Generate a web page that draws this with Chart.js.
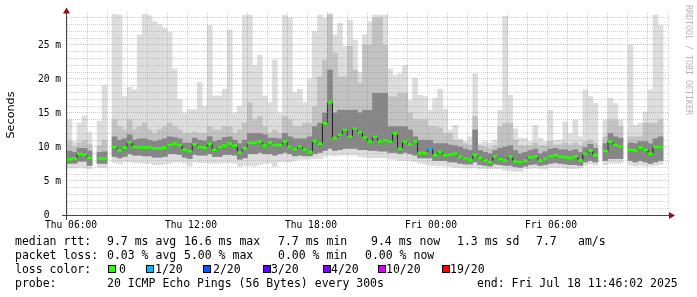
<!DOCTYPE html>
<html>
<head>
<meta charset="utf-8">
<title>SmokePing latency</title>
<script src="https://cdn.jsdelivr.net/npm/chart.js@4.4.0/dist/chart.umd.min.js"></script>
<style>
  html, body { margin: 0; padding: 0; background: #fff; }
  #wrap { width: 697px; height: 297px; }
</style>
</head>
<body>
<div id="wrap"><canvas id="smokeChart" width="697" height="297"></canvas></div>
<script>
// one column per 15 min sample, values in ms (null = no data)
const hi = [14.0, 10.8, 13.5, 14.6, 12.2, null, 13.8, 19.1, null, 29.5, 29.4, 17.4, 18.8, 18.4, 26.5, 29.5, 29.3, 28.4, 28.0, 27.5,
  26.9, 21.5, 17.0, 15.0, 15.5, 15.5, 19.5, 16.0, 27.9, 17.5, 17.5, 18.5, 27.2, 15.0, 16.0, 29.4, 29.4, 22.0, 23.5, 17.5,
  16.5, 22.8, 15.0, 29.4, 29.0, 18.0, 18.5, 16.5, 20.0, 27.0, 29.4, 29.0, 29.6, 26.5, 28.2, 24.8, 28.7, 25.7, 21.0, 26.5,
  28.4, 29.4, 29.4, 29.4, 21.5, 20.5, 20.8, 22.0, 16.9, 20.1, 17.6, 17.4, 15.4, 17.2, 18.5, 15.5, 12.5, 13.2, 11.2, 10.8,
  11.5, 20.8, 10.5, 10.8, 10.6, 11.0, 15.4, 29.2, 17.6, 12.7, 11.3, 11.3, 10.8, 13.2, 11.3, 10.8, 15.4, 11.0, 11.0, 13.7,
  12.0, 14.0, 11.5, 18.4, 17.4, 16.4, null, 14.0, 17.2, 16.4, 14.0, null, 25.0, 13.2, 13.5, 15.2, 18.4, 29.4, 27.9, null];
const mid = [10.8, 10.0, 10.6, 11.0, 10.4, null, 10.2, 11.0, null, 14.0, 13.0, 12.5, 14.0, 12.5, 13.0, 13.5, 12.5, 12.0, 12.5, 13.0,
  13.5, 13.0, 12.5, 12.0, 12.0, 12.2, 12.0, 12.0, 13.0, 12.5, 12.5, 13.0, 13.0, 12.0, 12.5, 13.5, 16.5, 14.0, 14.5, 13.0,
  12.0, 12.5, 12.0, 14.5, 14.0, 13.0, 13.0, 13.5, 13.5, 16.0, 20.3, 22.8, 29.4, 23.8, 20.3, 20.3, 24.8, 21.3, 19.4, 25.0,
  25.0, 29.0, 29.0, 25.0, 17.4, 17.4, 17.9, 17.9, 15.0, 14.0, 14.0, 14.0, 13.0, 13.0, 12.8, 12.0, 12.0, 11.0, 11.0, 10.5,
  10.3, 14.5, 10.2, 10.0, 9.8, 10.2, 13.0, 13.5, 13.5, 11.0, 10.2, 10.2, 10.2, 10.6, 10.2, 10.2, 10.8, 10.3, 10.3, 10.6,
  10.3, 10.6, 10.2, 10.8, 11.0, 10.6, null, 11.5, 14.0, 14.0, 13.0, null, 11.5, 11.5, 11.5, 13.5, 13.5, 13.5, 14.0, null];
const dk = [9.4, 9.2, 9.8, 9.8, 9.4, null, 9.2, 9.3, null, 11.5, 11.0, 11.2, 11.8, 11.0, 11.2, 11.2, 11.0, 10.8, 11.0, 11.2,
  11.5, 11.4, 11.2, 10.6, 10.6, 11.3, 11.0, 10.9, 11.5, 10.8, 11.0, 11.4, 11.5, 11.0, 10.5, 11.0, 12.0, 12.0, 12.0, 11.8,
  11.3, 11.3, 11.2, 12.0, 11.5, 11.2, 11.2, 11.2, 11.5, 13.0, 13.5, 15.0, 21.3, 15.0, 15.4, 15.4, 15.4, 15.4, 15.0, 15.4,
  15.4, 17.9, 17.9, 17.9, 13.0, 13.0, 13.0, 13.0, 12.5, 11.5, 11.0, 11.0, 11.0, 10.5, 10.5, 10.5, 10.3, 10.2, 10.0, 9.7,
  9.5, 12.5, 9.5, 9.2, 9.0, 9.5, 9.8, 10.0, 10.2, 9.5, 9.0, 9.2, 9.5, 9.7, 9.0, 9.3, 9.7, 9.8, 9.6, 9.6,
  9.4, 9.6, 9.2, 9.9, 10.4, 9.8, null, 10.5, 12.0, 11.5, 11.3, null, 10.6, 10.5, 10.8, 10.8, 10.5, 11.2, 11.5, null];
const med = [8.2, 8.3, 9.0, 8.9, 8.4, null, 8.3, 8.3, null, 10.0, 9.5, 9.9, 10.7, 10.0, 10.0, 9.9, 10.0, 9.8, 9.8, 9.9,
  10.3, 10.5, 10.3, 9.6, 9.4, 10.4, 10.0, 9.9, 10.5, 9.6, 10.0, 10.2, 10.5, 10.2, 9.2, 9.8, 10.6, 10.6, 10.8, 10.2,
  10.6, 10.3, 10.3, 10.8, 10.0, 9.7, 10.1, 9.6, 9.3, 10.9, 10.5, 13.5, 16.6, 11.3, 11.8, 12.5, 11.5, 12.7, 12.2, 11.4,
  10.8, 11.5, 10.8, 11.0, 10.8, 12.0, 9.7, 10.8, 10.4, 10.8, 9.1, 9.1, 9.8, 8.8, 9.3, 8.8, 8.9, 9.0, 8.6, 8.3,
  8.1, 8.8, 8.4, 8.0, 7.8, 8.6, 8.2, 8.0, 8.6, 7.9, 7.8, 8.0, 8.5, 8.6, 8.0, 8.3, 8.6, 8.8, 8.6, 8.5,
  8.4, 8.6, 8.0, 9.0, 9.5, 8.8, null, 9.4, 10.8, 10.3, 10.1, null, 9.6, 9.5, 9.9, 9.6, 9.0, 10.0, 10.0, null];
const lodk = [7.6, 7.6, 7.9, 7.9, 7.3, null, 7.6, 7.6, null, 8.6, 8.4, 8.6, 9.0, 8.8, 8.8, 8.7, 8.7, 8.5, 8.5, 8.6,
  9.0, 9.0, 8.9, 8.5, 8.3, 8.9, 8.8, 8.8, 9.0, 8.6, 8.6, 8.9, 8.9, 8.8, 8.2, 8.4, 9.0, 9.0, 9.2, 9.0,
  9.0, 8.8, 9.0, 9.2, 9.0, 8.7, 8.8, 8.7, 8.7, 9.0, 9.2, 9.5, 9.8, 9.5, 9.6, 9.8, 9.8, 9.8, 9.6, 9.6,
  9.5, 9.5, 9.4, 9.4, 9.2, 9.2, 9.0, 9.2, 9.0, 8.8, 8.4, 8.4, 8.4, 8.0, 8.0, 8.0, 7.8, 7.8, 7.6, 7.5,
  7.5, 7.8, 7.4, 7.3, 7.2, 7.5, 7.4, 7.3, 7.3, 7.1, 7.0, 7.2, 7.4, 7.5, 7.3, 7.4, 7.6, 7.7, 7.6, 7.5,
  7.4, 7.4, 7.3, 7.8, 8.0, 7.8, null, 8.0, 8.3, 8.3, 8.3, null, 8.0, 7.8, 8.0, 7.8, 7.6, 7.8, 8.0, null];
const lo = [6.9, 6.9, 7.0, 6.9, 6.8, null, 7.0, 7.0, null, 7.7, 7.5, 7.8, 7.8, 7.7, 7.7, 7.6, 7.6, 7.4, 7.4, 7.5,
  7.6, 7.8, 7.8, 7.6, 7.2, 7.8, 7.7, 7.7, 7.6, 7.6, 7.6, 7.7, 7.7, 7.6, 7.1, 7.3, 7.2, 7.2, 7.4, 7.6,
  7.6, 7.1, 7.8, 7.8, 7.8, 8.0, 8.2, 8.2, 8.2, 8.3, 8.3, 8.6, 8.8, 8.7, 8.8, 8.8, 8.8, 8.8, 8.6, 8.5,
  8.4, 8.4, 8.4, 8.4, 8.2, 8.2, 8.0, 8.0, 8.0, 7.8, 7.6, 7.5, 7.3, 7.3, 7.2, 7.2, 7.1, 7.0, 7.0, 6.9,
  6.9, 7.0, 6.8, 6.8, 6.8, 6.8, 6.8, 6.6, 6.5, 6.4, 6.4, 6.8, 6.8, 6.9, 6.8, 6.8, 7.0, 7.0, 7.0, 6.9,
  6.8, 6.8, 6.9, 7.3, 7.5, 7.3, null, 7.4, 7.6, 7.6, 7.6, null, 7.3, 7.2, 7.3, 7.2, 7.2, 7.3, 7.4, null];

// [column, loss level index]
const lossEvents = [[72, 1]];
const lossLabels = ['0', '1/20', '2/20', '3/20', '4/20', '10/20', '19/20'];
const lossColors = ['#26ff00', '#00b8ff', '#0059ff', '#5e00ff', '#7e00ff', '#dd00ff', '#ff0000'];

// time axis in minutes from Thu 06:00
const tMin = -9;
const tMax = 1794;
const timeTicks = [0, 360, 720, 1080, 1440];
const timeLabels = ['Thu 06:00', 'Thu 12:00', 'Thu 18:00', 'Fri 00:00', 'Fri 06:00'];
const yMax = 29.85;
const yTicks = [0, 5, 10, 15, 20, 25];
const yLabels = ['0  ', '5 m', '10 m', '15 m', '20 m', '25 m'];

const statRtt = ['median rtt:', '9.7 ms avg', '16.6 ms max', '7.7 ms min', '9.4 ms now', '1.3 ms sd', '7.7', 'am/s'];
const statLoss = ['packet loss:', '0.03 % avg', '5.00 % max', '0.00 % min', '0.00 % now'];
const probeText = ['probe:', '20 ICMP Echo Pings (56 Bytes) every 300s', 'end: Fri Jul 18 11:46:02 2025'];

document.addEventListener('DOMContentLoaded', () => {
  const samples = hi.map((_, i) => i);
  const band = (lower, upper) => lower.map((v, i) => (v == null || upper[i] == null) ? null : [v, upper[i]]);
  const lossColor = i => {
    const ev = lossEvents.find(e => e[0] === i);
    return ev ? lossColors[ev[1]] : lossColors[0];
  };

  const MONO = "'DejaVu Sans Mono', monospace";
  const MAJOR = 'rgba(240, 100, 100, 0.5)';
  const MINOR = 'rgba(140, 140, 140, 0.4)';

  // axes, arrows, labels and legend text in rrdtool layout
  const rrdChrome = {
    id: 'rrdChrome',
    afterDraw(chart) {
      const { ctx, chartArea: a, scales } = chart;
      ctx.save();

      ctx.strokeStyle = '#444';
      ctx.lineWidth = 1;
      ctx.beginPath();
      ctx.moveTo(66.5, 220);
      ctx.lineTo(66.5, 12);
      ctx.moveTo(62, a.bottom + 0.5);
      ctx.lineTo(670, a.bottom + 0.5);
      ctx.stroke();

      ctx.fillStyle = '#8b1010';
      ctx.beginPath();
      ctx.moveTo(66.5, 7.5);
      ctx.lineTo(63, 13.5);
      ctx.lineTo(70, 13.5);
      ctx.closePath();
      ctx.fill();
      ctx.beginPath();
      ctx.moveTo(675, a.bottom + 0.5);
      ctx.lineTo(669, a.bottom - 3);
      ctx.lineTo(669, a.bottom + 4);
      ctx.closePath();
      ctx.fill();

      ctx.fillStyle = '#000';
      ctx.font = '9.6px ' + MONO;
      ctx.textAlign = 'right';
      ctx.textBaseline = 'middle';
      yTicks.forEach((v, i) => {
        ctx.fillText(yLabels[i], 61, Math.round(scales.y.getPixelForValue(v)) + 0.5);
      });
      ctx.textAlign = 'center';
      ctx.textBaseline = 'alphabetic';
      timeTicks.forEach((t, i) => {
        ctx.fillText(timeLabels[i], scales.xt.getPixelForValue(t) + 1, 228);
      });

      ctx.save();
      ctx.translate(11, 115);
      ctx.rotate(-Math.PI / 2);
      ctx.font = "11.2px 'DejaVu Sans', sans-serif";
      ctx.textBaseline = 'middle';
      ctx.fillText('Seconds', 0, 0);
      ctx.restore();

      ctx.save();
      ctx.translate(688, 5);
      ctx.rotate(Math.PI / 2);
      ctx.font = '8.3px ' + MONO;
      ctx.fillStyle = '#b4b4b4';
      ctx.textAlign = 'left';
      ctx.textBaseline = 'middle';
      ctx.fillText('RRDTOOL / TOBI OETIKER', 0, 0);
      ctx.restore();

      ctx.font = '11.5px ' + MONO;
      ctx.textAlign = 'left';
      ctx.textBaseline = 'alphabetic';
      const rttX = [15, 107, 184, 278, 371, 457, 536, 578];
      statRtt.forEach((s, i) => ctx.fillText(s, rttX[i], 245));
      const lossX = [15, 107, 184, 278, 365];
      statLoss.forEach((s, i) => ctx.fillText(s, lossX[i], 259));

      ctx.fillText('loss color:', 15, 273);
      const boxX = [108, 146, 203, 263, 323, 378, 442];
      const labelX = [119, 155, 213, 271, 331, 386, 450];
      lossLabels.forEach((s, i) => {
        ctx.fillStyle = lossColors[i];
        ctx.fillRect(boxX[i], 266, 7, 7);
        ctx.strokeStyle = '#000';
        ctx.strokeRect(boxX[i] + 0.5, 265.5, 7, 7);
        ctx.fillStyle = '#000';
        ctx.fillText(s, labelX[i], 273);
      });

      const probeX = [15, 107, 477];
      probeText.forEach((s, i) => ctx.fillText(s, probeX[i], 287));

      ctx.restore();
    }
  };

  const barBase = { type: 'bar', xAxisID: 'x', yAxisID: 'y', grouped: false, barPercentage: 1, categoryPercentage: 1, borderWidth: 0 };

  new Chart(document.getElementById('smokeChart'), {
    type: 'bar',
    data: {
      labels: samples,
      datasets: [
        {
          type: 'line',
          label: 'median rtt',
          xAxisID: 'x',
          yAxisID: 'y',
          data: med,
          order: 0,
          showLine: false,
          pointStyle: 'line',
          pointRadius: 2.6,
          pointHoverRadius: 2.6,
          pointBorderWidth: 2.6,
          pointBorderColor: med.map((_, i) => lossColor(i)),
          pointBackgroundColor: med.map((_, i) => lossColor(i))
        },
        {
          type: 'line',
          label: 'median steps',
          xAxisID: 'x',
          yAxisID: 'y',
          data: med,
          order: 1,
          stepped: 'middle',
          spanGaps: false,
          borderColor: '#1e1e1e',
          borderWidth: 1,
          pointRadius: 0,
          pointHoverRadius: 0
        },
        Object.assign({ label: 'core', data: band(lodk, dk), backgroundColor: '#868686', order: 2 }, barBase),
        Object.assign({ label: 'spread', data: band(lodk, mid), backgroundColor: '#c2c2c2', order: 3 }, barBase),
        Object.assign({ label: 'smoke', data: band(lo, hi), backgroundColor: '#dddddd', order: 4 }, barBase)
      ]
    },
    options: {
      responsive: false,
      animation: false,
      events: [],
      layout: { padding: { left: 67, right: 29, top: 12, bottom: 82 } },
      plugins: { legend: { display: false }, tooltip: { enabled: false } },
      scales: {
        x: { type: 'category', display: false, offset: true },
        xt: {
          type: 'linear',
          position: 'bottom',
          offset: false,
          min: tMin,
          max: tMax,
          ticks: { display: false, stepSize: 60, includeBounds: false },
          grid: {
            z: 1,
            offset: false,
            drawTicks: false,
            lineWidth: 1,
            color: c => (c.tick && c.tick.value % 180 === 0) ? MAJOR : MINOR
          },
          border: { display: false, dash: [1, 1] }
        },
        y: {
          type: 'linear',
          position: 'left',
          min: 0,
          max: yMax,
          ticks: { display: false, stepSize: 1, includeBounds: false },
          grid: {
            z: 1,
            drawTicks: false,
            lineWidth: 1,
            color: c => (c.tick && c.tick.value === 0) ? 'rgba(0,0,0,0)' : (c.tick && c.tick.value % 5 === 0) ? MAJOR : MINOR
          },
          border: { display: false, dash: [1, 1] }
        }
      }
    },
    plugins: [rrdChrome]
  });
});
</script>
</body>
</html>
